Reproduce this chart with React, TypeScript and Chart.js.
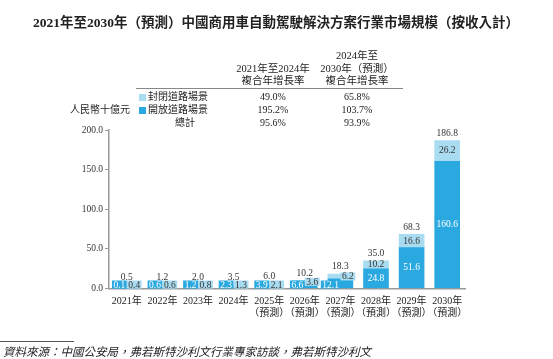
import React, { useEffect, useRef } from "react";
import { Chart, registerables } from "chart.js";

Chart.register(...registerables);

const xTickLabels: string[][] = [
  ["2021年"], ["2022年"], ["2023年"], ["2024年"],
  ["2025年", "（預測）"], ["2026年", "（預測）"], ["2027年", "（預測）"],
  ["2028年", "（預測）"], ["2029年", "（預測）"], ["2030年", "（預測）"],
];
const openRoad = [0.1, 0.6, 1.2, 2.3, 3.9, 6.6, 12.1, 24.8, 51.6, 160.6];
const closedRoad = [0.4, 0.6, 0.8, 1.3, 2.1, 3.6, 6.2, 10.2, 16.6, 26.2];
const totals = [0.5, 1.2, 2.0, 3.5, 6.0, 10.2, 18.3, 35.0, 68.3, 186.8];

const seriesNames = ["封閉道路場景", "開放道路場景", "總計"];
const cagr2124 = ["49.0%", "195.2%", "95.6%"];
const cagr2430 = ["65.8%", "103.7%", "93.9%"];

const DARK = "#2aa9e0";
const LIGHT = "#aadcf1";
const SERIF = "'Liberation Serif', 'Noto Sans CJK TC', serif";

const labelPlugin = {
  id: "barLabels",
  afterDatasetsDraw(chart: any) {
    const ctx = chart.ctx;
    const m0 = chart.getDatasetMeta(0);
    const m1 = chart.getDatasetMeta(1);
    ctx.save();
    ctx.font = `9.5px ${SERIF}`;
    ctx.textAlign = "center";
    ctx.textBaseline = "middle";
    for (let i = 0; i < totals.length; i++) {
      const b0 = m0.data[i];
      const b1 = m1.data[i];
      const base = b0.base;
      const top = b1.y;
      const x = b0.x;
      const totalH = base - top;
      if (totalH > 25) {
        ctx.fillStyle = "#ffffff";
        ctx.fillText(openRoad[i].toFixed(1), x, (b0.y + b0.base) / 2);
        ctx.fillStyle = "#333";
        ctx.fillText(closedRoad[i].toFixed(1), x, (b1.y + b1.base) / 2);
      } else {
        const t0 = openRoad[i].toFixed(1);
        const t1 = closedRoad[i].toFixed(1);
        const w0 = ctx.measureText(t0).width + 3;
        const w1 = ctx.measureText(t1).width + 3;
        const y0 = base - 3.5;
        const y1 = Math.min(base - 3.5, (b1.y + b1.base) / 2);
        const h = 8;
        ctx.fillStyle = DARK;
        ctx.fillRect(x - w0, y0 - h / 2, w0, h);
        ctx.fillStyle = LIGHT;
        ctx.fillRect(x, y1 - h / 2, w1, h);
        ctx.fillStyle = "#ffffff";
        ctx.fillText(t0, x - w0 / 2, y0 + 0.5);
        ctx.fillStyle = "#333";
        ctx.fillText(t1, x + w1 / 2, y1 + 0.5);
      }
      ctx.fillStyle = "#333";
      const ty = Math.min(top - 7, base - 11);
      ctx.fillText(totals[i].toFixed(1), x, ty);
    }
    ctx.restore();
  },
};

function T(props: {
  x: number; y: number; text: string; align?: "left" | "center" | "right";
  size?: number; bold?: boolean; italic?: boolean; family?: string;
}) {
  const { x, y, text, align = "center", size = 10.5, bold, italic } = props;
  const lh = Math.round(size * 1.4);
  const style: React.CSSProperties = {
    position: "absolute",
    top: y - lh / 2,
    height: lh,
    lineHeight: `${lh}px`,
    fontSize: size,
    fontFamily: props.family || SERIF,
    fontWeight: bold ? "bold" : "normal",
    fontStyle: italic ? "italic" : "normal",
    color: "#222",
    whiteSpace: "nowrap",
  };
  if (align === "center") {
    style.left = x - 300;
    style.width = 600;
    style.textAlign = "center";
  } else if (align === "left") {
    style.left = x;
  } else {
    style.right = 553 - x;
    style.textAlign = "right";
  }
  return <div style={style}>{text}</div>;
}

export default function App() {
  const ref = useRef<HTMLCanvasElement | null>(null);
  useEffect(() => {
    if (!ref.current) return;
    const chart = new Chart(ref.current, {
      type: "bar",
      data: {
        labels: xTickLabels as any,
        datasets: [
          { label: seriesNames[1], data: openRoad, backgroundColor: DARK, barThickness: 25 },
          { label: seriesNames[0], data: closedRoad, backgroundColor: LIGHT, barThickness: 25 },
        ],
      },
      options: {
        animation: false,
        responsive: false,
        devicePixelRatio: 1,
        layout: { padding: { left: 0, right: 88, top: 130, bottom: 30.5 } },
        plugins: { legend: { display: false }, tooltip: { enabled: false }, title: { display: false } },
        scales: {
          x: {
            stacked: true,
            grid: { display: false },
            border: { display: true, color: "#9a9a9a", width: 1.5 },
            ticks: {
              color: "#222",
              font: { family: SERIF, size: 10, lineHeight: 1.2 },
              padding: -1.5,
              maxRotation: 0,
              autoSkip: false,
            },
            afterFit: (s: any) => { s.height = 40; },
          },
          y: {
            stacked: true,
            min: 0,
            max: 200,
            ticks: {
              stepSize: 50,
              color: "#333",
              font: { family: SERIF, size: 9.5 },
              padding: 2,
              callback: (v: any) => Number(v).toFixed(1),
            },
            grid: { drawOnChartArea: false, drawTicks: true, tickLength: 4, color: "#9a9a9a" },
            border: { display: true, color: "#9a9a9a", width: 1.5 },
            afterFit: (s: any) => { s.width = 109; },
          },
        },
      },
      plugins: [labelPlugin],
    });
    return () => chart.destroy();
  }, []);

  return (
    <div style={{ position: "fixed", left: 0, top: 0, width: 553, height: 359, background: "#fff", overflow: "hidden" }}>
      <canvas ref={ref} width={553} height={359} style={{ position: "absolute", left: 0, top: 0, width: 553, height: 359 }} />
      <T x={276} y={22} size={13.5} bold text="2021年至2030年（預測）中國商用車自動駕駛解決方案行業市場規模（按收入計）" />
      <T x={357} y={55} text="2024年至" />
      <T x={273} y={68} text="2021年至2024年" />
      <T x={357} y={68} text="2030年（預測）" />
      <T x={273} y={80} text="複合年增長率" />
      <T x={357} y={80} text="複合年增長率" />
      <div style={{ position: "absolute", left: 136, top: 87.5, width: 267, height: 1, background: "#888" }} />
      <div style={{ position: "absolute", left: 139, top: 93.5, width: 7, height: 7, background: LIGHT }} />
      <div style={{ position: "absolute", left: 139, top: 106.5, width: 7, height: 7, background: DARK }} />
      <T x={148} y={97} align="left" size={10} text={seriesNames[0]} />
      <T x={148} y={110} align="left" size={10} text={seriesNames[1]} />
      <T x={185} y={123} size={10} text={seriesNames[2]} />
      {cagr2124.map((v, i) => <T key={"a" + i} x={273} y={97 + 13 * i} size={10} text={v} />)}
      {cagr2430.map((v, i) => <T key={"b" + i} x={357} y={97 + 13 * i} size={10} text={v} />)}
      <T x={130} y={110} align="right" size={10} text="人民幣十億元" />
      <div style={{ position: "absolute", left: 0, top: 340.5, width: 74, height: 1, background: "#555" }} />
      <T x={3} y={352} align="left" size={11.5} italic text="資料來源：中國公安局，弗若斯特沙利文行業專家訪談，弗若斯特沙利文" />
    </div>
  );
}
